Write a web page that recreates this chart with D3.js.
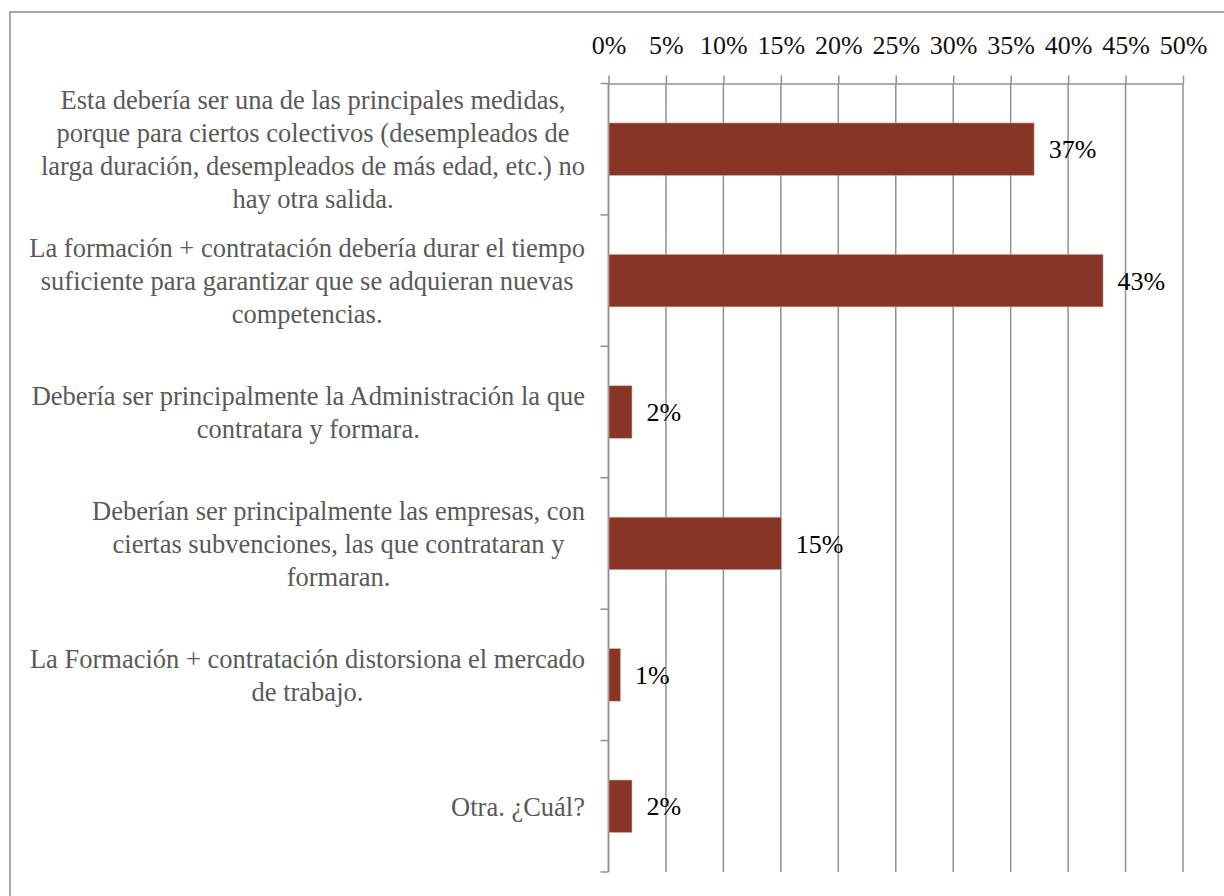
<!DOCTYPE html>
<html>
<head>
<meta charset="utf-8">
<script src="https://cdn.jsdelivr.net/npm/d3@7"></script>
<style>
  html, body { margin: 0; padding: 0; background: #fff; }
  svg { display: block; }
  svg text { font-family: "Liberation Serif", "DejaVu Serif", serif; }
</style>
</head>
<body>
<svg id="chart" width="1224" height="896"></svg>
<script>
// Survey answers (each category is pre-split into its display lines)
const categories = [
  ["Esta debería ser una de las principales medidas,",
   "porque para ciertos colectivos (desempleados de",
   "larga duración, desempleados de más edad, etc.) no",
   "hay otra salida."],
  ["La formación + contratación debería durar el tiempo",
   "suficiente para garantizar que se adquieran nuevas",
   "competencias."],
  ["Debería ser principalmente la Administración la que",
   "contratara y formara."],
  ["Deberían ser principalmente las empresas, con",
   "ciertas subvenciones, las que contrataran y",
   "formaran."],
  ["La Formación + contratación distorsiona el mercado",
   "de trabajo."],
  ["Otra. ¿Cuál?"]
];
const values = [0.37, 0.43, 0.02, 0.15, 0.01, 0.02];
const tickValues = [0, 0.05, 0.10, 0.15, 0.20, 0.25, 0.30, 0.35, 0.40, 0.45, 0.50];

const svg = d3.select("#chart");
const NUM_SIZE = 26;
const LABEL_SIZE = 26.5;

const plot = { left: 608.5, right: 1183, top: 83.5, bottom: 872 };

const x = d3.scaleLinear().domain([0, 0.5]).range([plot.left, plot.right]);
const keys = categories.map((d, i) => i);
const y = d3.scaleBand().domain(keys).range([plot.top, plot.bottom])
  .paddingInner(0.6).paddingOuter(0.3);
const step = y.step();

// Outer frame
svg.append("rect")
  .attr("x", 10).attr("y", 12)
  .attr("width", 1240).attr("height", 920)
  .attr("fill", "none").attr("stroke", "#8c8c8c").attr("stroke-width", 1.5);

// Vertical gridlines
svg.append("g").selectAll("line").data(tickValues).join("line")
  .attr("x1", d => x(d)).attr("x2", d => x(d))
  .attr("y1", plot.top).attr("y2", plot.bottom)
  .attr("stroke", "#909090").attr("stroke-width", 1.5);

// Top percentage axis
const xAxis = svg.append("g")
  .attr("transform", `translate(0,${plot.top})`)
  .call(d3.axisTop(x).tickValues(tickValues).tickFormat(d3.format(".0%"))
    .tickSize(8).tickSizeOuter(0).tickPadding(22));
xAxis.attr("font-family", null);
xAxis.select(".domain").attr("stroke", "#909090").attr("stroke-width", 1.5);
xAxis.selectAll(".tick line").attr("stroke", "#909090").attr("stroke-width", 1.5);
xAxis.selectAll(".tick text")
  .attr("font-size", NUM_SIZE).attr("fill", "#111");

// Category axis: vertical line with ticks on the band boundaries
const boundaries = d3.range(categories.length + 1).map(i => plot.top + i * step);
svg.append("line")
  .attr("x1", plot.left).attr("x2", plot.left)
  .attr("y1", plot.top).attr("y2", plot.bottom)
  .attr("stroke", "#909090").attr("stroke-width", 1.5);
svg.append("g").selectAll("line").data(boundaries).join("line")
  .attr("x1", plot.left - 8).attr("x2", plot.left)
  .attr("y1", d => d).attr("y2", d => d)
  .attr("stroke", "#909090").attr("stroke-width", 1.5);

// Bars
svg.append("g").selectAll("rect").data(values).join("rect")
  .attr("x", x(0) + 0.5)
  .attr("y", (d, i) => y(i))
  .attr("width", d => x(d) - x(0))
  .attr("height", y.bandwidth())
  .attr("fill", "#863526")
  .attr("stroke", "#d9b3aa").attr("stroke-width", 0.6);

// Value labels
svg.append("g").selectAll("text").data(values).join("text")
  .attr("x", d => x(d) + 15)
  .attr("y", (d, i) => y(i) + y.bandwidth() / 2)
  .attr("dy", "0.35em")
  .attr("font-size", NUM_SIZE).attr("fill", "#000")
  .text(d => d3.format(".0%")(d));

// Category labels: each block's lines are centred on one another,
// and the block is right-aligned against the axis
const labelRight = 585;
const lineGap = 33;
categories.forEach((lines, i) => {
  const cy = y(i) + y.bandwidth() / 2;
  const g = svg.append("g");
  const texts = g.selectAll("text").data(lines).join("text")
    .attr("y", (d, j) => cy + (j - (lines.length - 1) / 2) * lineGap)
    .attr("dy", "0.35em")
    .attr("text-anchor", "middle")
    .attr("font-size", LABEL_SIZE).attr("fill", "#595959")
    .text(d => d);
  const maxW = d3.max(texts.nodes(), n => n.getComputedTextLength());
  texts.attr("x", labelRight - maxW / 2);
});
</script>
</body>
</html>
